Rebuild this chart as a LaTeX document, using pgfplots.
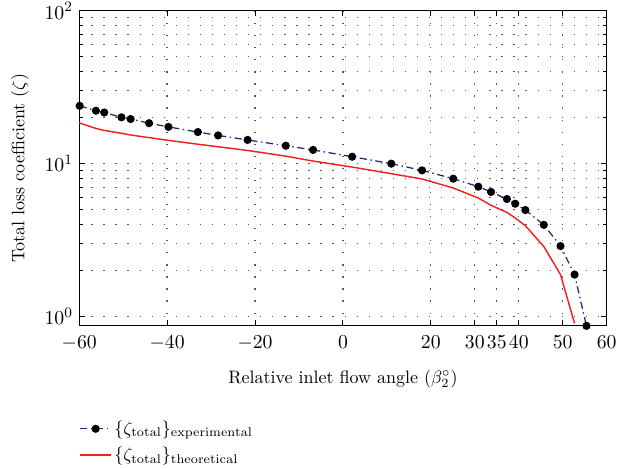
\documentclass[border=0pt]{standalone}
\usepackage{pgfplots}
\pgfplotsset{compat=1.18}
\definecolor{expblue}{rgb}{0.12,0.16,0.50}
\definecolor{theored}{rgb}{0.95,0.12,0.12}
\begin{document}
\begin{tikzpicture}
\begin{axis}[
  name=ax,
  scale only axis,
  width=293pt, height=175pt,
  ymode=log,
  xmin=-60, xmax=60,
  ymin=0.869, ymax=100,
  xtick={-60,-40,-20,0,20,30,35,40,50,60},
  xticklabels={$-60$,$-40$,$-20$,$0$,$20$,$30$,$35$,$40$,$50$,$60$},
  ytick={1,10,100},
  minor ytick={2,3,4,5,6,7,8,9,20,30,40,50,60,70,80,90},
  tick label style={font=\fontsize{11}{13}\selectfont},
  xticklabel style={yshift=-2pt},
  tick align=inside,
  major tick length=3pt,
  minor tick length=2pt,
  tick style={black, line width=0.5pt},
  xmajorgrids, ymajorgrids, yminorgrids,
  grid style={gray!70!black, line width=0.7pt, dash pattern=on 0.7pt off 6pt},
  minor grid style={gray!70!black, line width=0.7pt, dash pattern=on 0.7pt off 6pt},
  axis line style={black, line width=0.7pt},
  xlabel={Relative inlet flow angle ($\beta_2^{\circ}$)},
  ylabel={Total loss coefficient ($\zeta$)},
  xlabel style={at={(axis description cs:0.5,-0.168)}, anchor=center},
  ylabel style={at={(axis description cs:-0.1126,0.5)}, anchor=center},
  clip=false,
  legend style={at={(axis description cs:0,-0.28)}, anchor=north west, draw=none, fill=none,
    font=\normalsize, xshift=-3pt, row sep=2.5pt, nodes={inner sep=1.5pt}},
  legend cell align=left,
]
\addplot[expblue, line width=0.7pt, dash pattern=on 4pt off 2pt on 0.8pt off 2pt,
  mark=*, mark size=1.9pt, mark options={solid, fill=black, draw=black}]
  coordinates {
  (-59.9,23.9) (-56.2,22.2) (-54.3,21.6) (-50.4,20.1) (-48.3,19.6)
  (-44.1,18.4) (-39.7,17.4) (-33.0,16.1) (-28.4,15.3) (-21.7,14.3)
  (-13.0,13.1) (-6.8,12.3) (2.1,11.1) (11.0,10.0) (18.0,9.04)
  (25.1,7.98) (30.8,7.07) (33.7,6.53) (37.3,5.87) (39.2,5.47)
  (41.5,4.97) (45.7,3.98) (49.5,2.89) (52.7,1.88) (55.4,0.869)
  };
\addlegendentry{$\{\zeta_{\mathrm{total}}\}_{\mathrm{experimental}}$}
\addplot[theored, line width=0.8pt]
  coordinates {
  (-60,18.5) (-56.2,17.0) (-54.3,16.5) (-50.4,15.8) (-48.3,15.4)
  (-44.1,14.8) (-39.7,14.2) (-33.0,13.4) (-28.4,12.9) (-21.7,12.2)
  (-13.0,11.2) (-6.8,10.4) (2.1,9.5) (11.0,8.6) (18.0,7.94)
  (25.1,6.93) (30.8,5.96) (33.7,5.34) (37.3,4.8) (39.2,4.41)
  (41.5,3.93) (45.7,2.87) (49.5,1.88) (52.7,0.9)
  };
\addlegendentry{$\{\zeta_{\mathrm{total}}\}_{\mathrm{theoretical}}$}
\end{axis}
\pgfresetboundingbox
\path ([xshift=-44pt,yshift=-79.4pt]ax.south west) rectangle ([xshift=6.3pt,yshift=6pt]ax.north east);
\end{tikzpicture}
\end{document}
